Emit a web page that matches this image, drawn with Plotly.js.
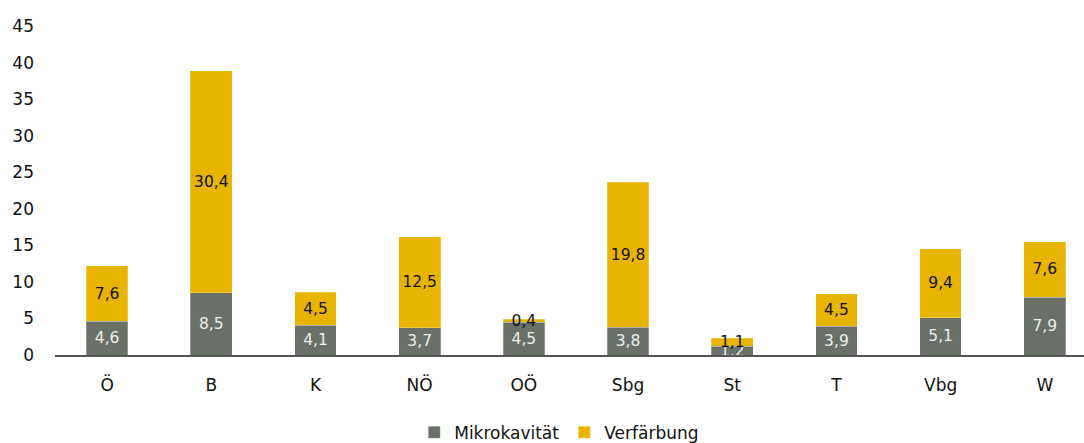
<!DOCTYPE html>
<html><head><meta charset="utf-8">
<script src="https://cdn.plot.ly/plotly-3.0.1.min.js"></script>
<style>html,body{margin:0;padding:0;background:#fff}#chart{width:1084px;height:443px}</style>
</head><body><div id="chart"></div>
<script>
const categories = ["Ö","B","K","NÖ","OÖ","Sbg","St","T","Vbg","W"];
const mikrokavitaet = [4.6, 8.5, 4.1, 3.7, 4.5, 3.8, 1.2, 3.9, 5.1, 7.9];
const verfaerbung = [7.6, 30.4, 4.5, 12.5, 0.4, 19.8, 1.1, 4.5, 9.4, 7.6];
const seriesNames = ["Mikrokavität", "Verfärbung"];
const yTicks = [0,5,10,15,20,25,30,35,40,45];

const fontFam = "DejaVu Sans, sans-serif";
const traces = [
  {type:'bar', x:categories, y:mikrokavitaet, name:seriesNames[0],
   marker:{color:'#687068', line:{color:'rgba(255,255,255,0.5)', width:0.5}},
   texttemplate:'%{y:.1f}', textposition:'inside', insidetextanchor:'middle', textangle:0,
   textfont:{color:'#eeeeee', size:15.5, family:fontFam}, hoverinfo:'skip'},
  {type:'bar', x:categories, y:verfaerbung, name:seriesNames[1],
   marker:{color:'#e8b400', line:{color:'rgba(255,255,255,0.5)', width:0.5}},
   texttemplate:'%{y:.1f}', textposition:'inside', insidetextanchor:'middle', textangle:0,
   textfont:{color:'#111111', size:15.5, family:fontFam}, hoverinfo:'skip'}
];
const layout = {
  width:1084, height:443, barmode:'stack', bargap:0.6,
  separators:',.',
  paper_bgcolor:'#fff', plot_bgcolor:'#fff',
  font:{family:fontFam, size:17, color:'#111'},
  margin:{l:55, r:0, t:26, b:88, autoexpand:false},
  uniformtext:{mode:'show', minsize:15.5},
  showlegend:true,
  legend:{orientation:'h', x:0.49, xanchor:'center', y:-0.236, yanchor:'middle',
          font:{size:17, family:fontFam, color:'#111'}, traceorder:'normal'},
  xaxis:{type:'category', range:[-0.5, 9.376], showline:true, linecolor:'#555', linewidth:2,
         ticks:'', showgrid:false, zeroline:false, ticklabelstandoff:14, tickfont:{size:17},
         automargin:false},
  yaxis:{range:[0,45], tickvals:yTicks, showline:false, showgrid:false, zeroline:false, ticks:'',
         ticklabelstandoff:20, tickfont:{size:17}, automargin:false}
};
Plotly.newPlot('chart', traces, layout, {displayModeBar:false, staticPlot:true});
</script></body></html>
